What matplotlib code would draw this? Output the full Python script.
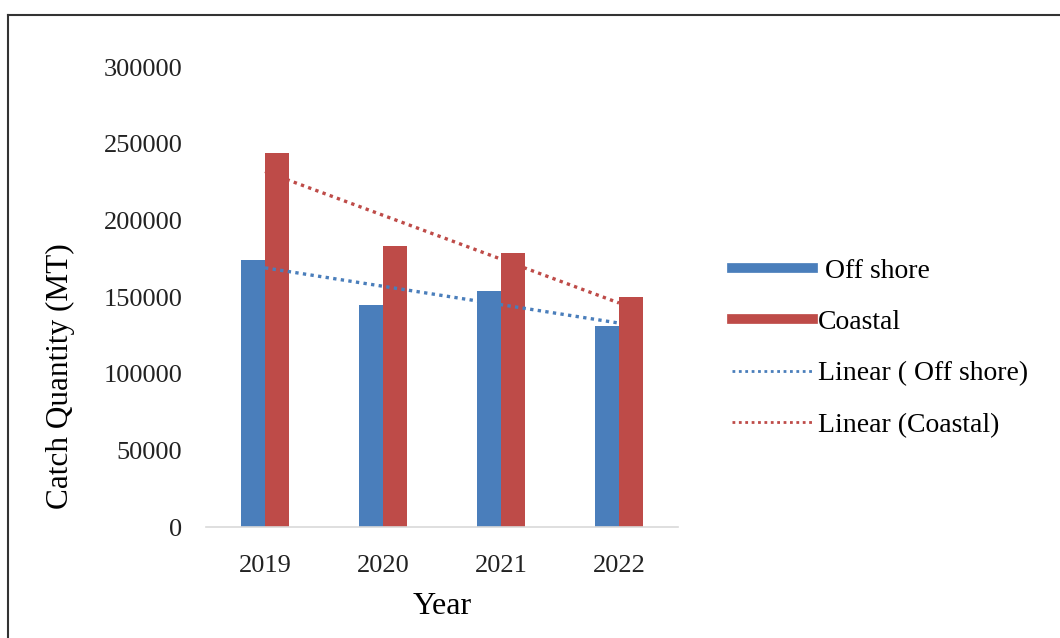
import matplotlib.pyplot as plt
import matplotlib.lines as mlines
import numpy as np

years = ['2019', '2020', '2021', '2022']
off_shore = [174000, 145000, 154000, 131000]
coastal = [244000, 183000, 179000, 150000]

blue = '#4a7ebb'
red = '#be4b48'

plt.rcParams['font.family'] = ['Liberation Serif', 'DejaVu Serif']

fig = plt.figure(figsize=(10.6, 6.38), dpi=100)
ax = fig.add_axes([206 / 1060, 1 - 527 / 638, 472 / 1060, 460 / 638])

x = np.arange(len(years))
w = 0.2
ax.bar(x - w / 2, off_shore, w, color=blue, label=' Off shore')
ax.bar(x + w / 2, coastal, w, color=red, label='Coastal')

# linear trendlines fitted on the series
for vals, col in [(off_shore, blue), (coastal, red)]:
    k, b = np.polyfit(x, vals, 1)
    ax.plot(x, k * x + b, linestyle=(0, (1, 1.3)), color=col, lw=2.4)

ax.set_xlim(-0.5, 3.5)
ax.set_ylim(0, 300000)
ax.set_yticks(np.arange(0, 300001, 50000))
ax.set_xticks(x)
ax.set_xticklabels(years)
ax.tick_params(axis='both', length=0, labelsize=19, colors='#222222')
ax.tick_params(axis='y', pad=17)
ax.tick_params(axis='x', pad=20)
for s in ['top', 'right', 'left']:
    ax.spines[s].set_visible(False)
ax.spines['bottom'].set_color('#d9d9d9')
ax.spines['bottom'].set_linewidth(1.2)

ax.set_xlabel('Year', fontsize=23, labelpad=11)
fig.text(60 / 1060, 1 - 376 / 638, 'Catch Quantity (MT)', rotation=90,
         fontsize=22.5, ha='center', va='center')

handles = [
    mlines.Line2D([], [], color=blue, lw=7),
    mlines.Line2D([], [], color=red, lw=7),
    mlines.Line2D([], [], color=blue, lw=2, linestyle=(0, (1, 1.3))),
    mlines.Line2D([], [], color=red, lw=2, linestyle=(0, (1, 1.3))),
]
labels = [' Off shore', 'Coastal', 'Linear ( Off shore)', 'Linear (Coastal)']
fig.legend(handles, labels, loc='center left', bbox_to_anchor=(721 / 1060, 1 - 348 / 638),
           frameon=False, fontsize=20, handlelength=2.9, handletextpad=0.2,
           labelspacing=0.93, borderaxespad=0)

# outer frame (top and left edges visible)
fig.add_artist(mlines.Line2D([8 / 1060, 8 / 1060], [0, 1 - 15 / 638], color='#333333', lw=1.5))
fig.add_artist(mlines.Line2D([8 / 1060, 1], [1 - 15 / 638, 1 - 15 / 638], color='#333333', lw=1.5))

fig.savefig('out.png', dpi=100)
